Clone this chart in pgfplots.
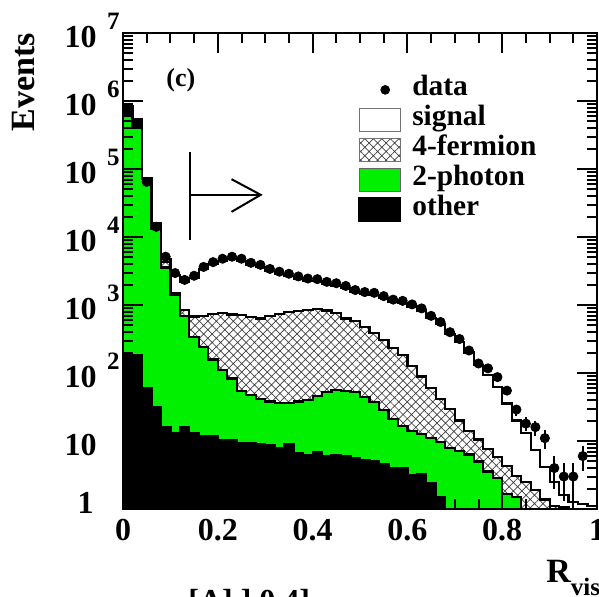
\documentclass[border=0pt]{standalone}
\usepackage{fontspec}
\setmainfont{Liberation Serif}
\usepackage{pgfplots}
\usepackage{pgfplotstable}
\pgfplotsset{compat=1.18}
\usetikzlibrary{patterns.meta}
\definecolor{ggreen}{RGB}{0,240,0}

% cumulative stack tops (bin left edges), bins of width 0.02
\pgfplotstableread{
x other gg ff tot
0.00 182 603000 631000 832000
0.02 182 398000 417000 550000
0.04 60 70800 72400 74100
0.06 31.6 13200 13800 15850
0.08 16.2 3550 4270 4790
0.10 13.2 1410 1510 2750
0.12 16.2 692 851 2190
0.14 13.2 339 676 2500
0.16 11.7 240 692 3380
0.18 11.7 158 741 3970
0.20 10.2 112 759 4450
0.22 10.2 83 724 4770
0.24 9.3 55 708 4450
0.26 9.3 47.9 661 3880
0.28 8.9 41.7 631 3620
0.30 8.7 38 692 3150
0.32 7.9 36.3 741 2870
0.34 8.9 36.3 794 2680
0.36 6.6 38 813 2450
0.38 6.3 39.8 851 2280
0.40 6.8 45.7 871 2230
0.42 5.9 52.5 832 2040
0.44 6.2 56.2 759 1940
0.46 6.0 55 631 1770
0.48 5.6 52.5 575 1545
0.50 5.2 44.7 479 1440
0.52 5.0 37.2 389 1400
0.54 4.5 28.2 309 1255
0.56 4.0 20.9 234 1115
0.58 4.0 16.6 182 1070
0.60 3.2 14.1 126 950
0.62 3.3 12.6 89 830
0.64 2.4 11.2 60 646
0.66 1.5 9.55 41.7 525
0.68 0.3 7.94 29.5 372
0.70 0.3 7.08 20 282
0.72 0.3 6.31 14.1 200
0.74 0.3 5.0 10.5 132
0.76 0.3 3.55 7.6 93
0.78 0.3 2.82 5.75 63
0.80 0.3 1.66 4.27 35.5
0.82 0.3 1.51 3.09 20
0.84 0.3 0.3 2.51 13.2
0.86 0.3 0.3 1.9 7.4
0.88 0.3 0.3 1.38 4.2
0.90 0.3 0.3 1.12 2.5
0.92 0.3 0.3 1.05 1.6
0.94 0.3 0.3 0.5 1.26
0.96 0.3 0.3 0.5 1.2
0.98 0.3 0.3 0.5 1.12
1.00 0.3 0.3 0.5 1.12
}\mcstack

\pgfplotstableread{
x y ey
0.01 724000 851
0.03 468000 684
0.05 64600 254
0.07 14130 119
0.09 5130 72
0.11 2950 54
0.13 2340 48
0.15 2690 52
0.17 3630 60
0.19 4270 65
0.21 4790 69
0.23 5130 72
0.25 4790 69
0.27 4170 65
0.29 3890 62
0.31 3390 58
0.33 3090 56
0.35 2880 54
0.37 2630 51
0.39 2450 49
0.41 2400 49
0.43 2190 47
0.45 2090 46
0.47 1905 44
0.49 1660 41
0.51 1550 39
0.53 1510 39
0.55 1350 37
0.57 1200 35
0.59 1150 34
0.61 1020 32
0.63 891 30
0.65 692 26
0.67 562 24
0.69 398 20
0.71 316 18
0.73 214 15
0.75 138 12
0.77 117 11
0.79 87 9.3
0.81 55 7.4
0.83 29 5.4
0.85 18 4.2
0.87 16 4
0.89 11 3.3
0.91 4 2
0.93 3 1.7
0.95 3 1.7
0.97 6 2.4
}\datatab

\newcommand{\ex}[1]{10\makebox[11.5pt][r]{\raisebox{9.3pt}{\fontsize{12.5}{12.5}\selectfont #1}}}

\begin{document}
\begin{tikzpicture}
\useasboundingbox (-61.5pt,-44pt) rectangle (238pt,254.5pt);
\begin{axis}[
  at={(0,0)}, anchor=south west,
  scale only axis, width=237pt, height=238pt,
  xmin=0, xmax=1, ymin=1, ymax=1e7,
  ymode=log,
  axis on top,
  axis line style={line width=1.4pt},
  xtick={0,0.2,0.4,0.6,0.8,1},
  xticklabels={0,0.2,0.4,0.6,0.8,1},
  minor x tick num=3,
  ytick={1,10,100,1000,10000,100000,1000000,10000000},
  yticklabels={\raisebox{5pt}{1}\makebox[13pt]{},10\makebox[11.5pt]{},\ex{2},\ex{3},\ex{4},\ex{5},\ex{6},\ex{7}},
  minor ytick={2,3,4,5,6,7,8,9,20,30,40,50,60,70,80,90,200,300,400,500,600,700,800,900,2000,3000,4000,5000,6000,7000,8000,9000,2e4,3e4,4e4,5e4,6e4,7e4,8e4,9e4,2e5,3e5,4e5,5e5,6e5,7e5,8e5,9e5,2e6,3e6,4e6,5e6,6e6,7e6,8e6,9e6},
  tick align=inside,
  major tick length=10pt, minor tick length=5pt,
  every tick/.style={black, line width=1pt},
  xticklabel style={anchor=north, inner sep=0pt, yshift=-5pt, font=\bfseries\fontsize{16}{16}\selectfont},
  yticklabel style={anchor=base east, inner sep=0pt, xshift=-1.5pt, yshift=-7.4pt, font=\bfseries\fontsize{16}{16}\selectfont},
  legend style={at={(0.496,0.912)}, anchor=north west, draw=none, fill=none,
    inner sep=0pt, outer sep=0pt, row sep=0pt, column sep=5.5pt,
    font=\bfseries\fontsize{14.7}{14.7}\selectfont,
    nodes={inner sep=0pt, text height=10.5pt, text depth=4.5pt}},
  legend cell align=left,
]
\addlegendimage{legend image code/.code={\fill[black] (13pt,0pt) circle[radius=2.2pt];}}
\addlegendentry{data}

\addplot[const plot, fill=white, draw=black, line width=1.1pt,
  legend image code/.code={\draw[black!55,line width=0.5pt,fill=white] (0pt,-5.75pt) rectangle (20.5pt,5.75pt);}]
  table[x=x,y=tot]{\mcstack} \closedcycle;
\addlegendentry{signal}

\addplot[const plot, pattern={Hatch[angle=45,distance=3pt,line width=0.35pt]}, pattern color=black!75, draw=black, line width=1.1pt,
  legend image code/.code={\draw[black!55,line width=0.5pt,pattern={Hatch[angle=45,distance=3pt,line width=0.35pt]},pattern color=black!75] (0pt,-5.75pt) rectangle (20.5pt,5.75pt);}]
  table[x=x,y=ff]{\mcstack} \closedcycle;
\addlegendentry{4-fermion}

\addplot[const plot, fill=ggreen, draw=black, line width=1.1pt,
  legend image code/.code={\draw[black!60,line width=0.5pt,fill=ggreen] (0pt,-5.75pt) rectangle (20.5pt,5.75pt);}]
  table[x=x,y=gg]{\mcstack} \closedcycle;
\addlegendentry{2-photon}

\addplot[const plot, fill=black, draw=black, line width=1.1pt,
  legend image code/.code={\fill[black] (0pt,-5.75pt) rectangle (20.5pt,5.75pt);}]
  table[x=x,y=other]{\mcstack} \closedcycle;
\addlegendentry{other}

\addplot[only marks, mark=*, mark size=2.3pt, black, forget plot,
  error bars/.cd, y dir=both, y explicit, error mark=none,
  error bar style={line width=1pt, black}]
  table[x=x,y=y,y error=ey]{\datatab};

% cut arrow
\draw[line width=1pt] (axis cs:0.141,177800) -- (axis cs:0.141,9120);
\draw[line width=1pt] (axis cs:0.141,41700) -- (axis cs:0.2905,41700);
\draw[line width=1pt] (axis cs:0.229,70800) -- (axis cs:0.2905,41700) -- (axis cs:0.229,23400);

\node[font=\bfseries\fontsize{13}{13}\selectfont] at (rel axis cs:0.122,0.901) {(c)};
\end{axis}

\node[rotate=90, font=\bfseries\fontsize{17}{17}\selectfont, inner sep=0pt] at (-49.5pt,213.5pt) {Events};
\node[anchor=base west, inner sep=0pt, font=\bfseries\fontsize{17}{17}\selectfont] at (211.5pt,-37pt) {R\raisebox{-6.5pt}{\fontsize{12.5}{12.5}\selectfont vis}};
\node[anchor=base west, inner sep=0pt, font=\bfseries\fontsize{16}{16}\selectfont] at (32.5pt,-51.5pt) {[A] ] 0.4]};
\end{tikzpicture}
\end{document}
